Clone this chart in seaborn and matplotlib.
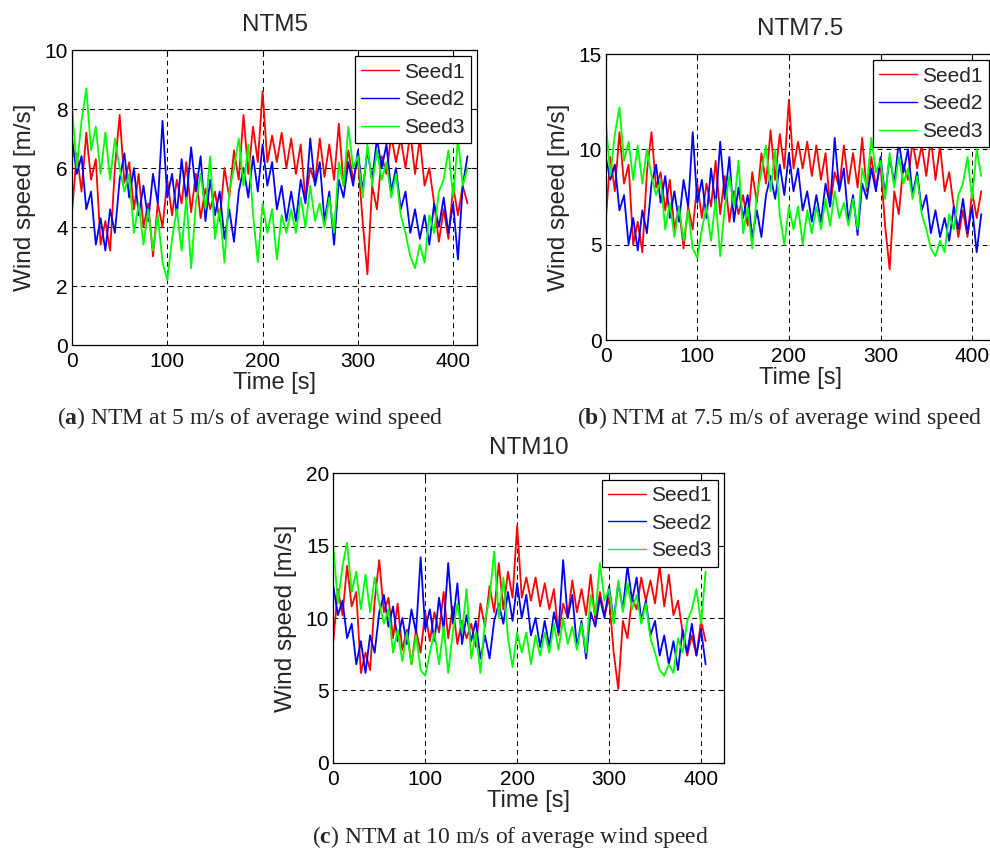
import numpy as np
import matplotlib
matplotlib.use("Agg")
import matplotlib.pyplot as plt
import seaborn as sns

# ---------------- data (5 s sampling) ----------------
SERIES_NAMES = ["Seed1", "Seed2", "Seed3"]
SERIES_COLORS = ["#ff0000", "#0000ff", "#00ff00"]
X_TICKS = [0, 100, 200, 300, 400]

# NTM5
A_SEED1 = [4.5,6.5,5.2,7.2,5.6,6.3,3.4,4.2,3.2,6.0, 7.8,5.5,6.2,4.6,5.8,4.0,4.8,3.0,4.8,4.0,
           5.6,4.4,5.6,4.8,6.2,4.5,5.8,4.3,5.3,4.6, 5.2,4.2,6.0,5.0,6.6,5.6,7.8,5.8,7.4,6.2,
           8.6,6.2,7.1,6.2,7.2,6.0,7.0,5.8,6.8,4.9, 6.0,5.5,7.0,5.7,6.8,5.6,7.5,5.4,6.6,5.6,
           6.3,4.2,2.4,5.4,4.6,6.4,5.8,7.1,6.2,7.0, 6.0,7.2,5.8,7.0,5.4,6.0,4.8,3.5,4.6,3.6,
           5.4,4.4,5.4,4.8]
A_SEED2 = [7.0,5.8,6.4,4.6,5.2,3.4,4.3,3.2,4.6,3.8, 5.6,6.5,5.0,6.0,4.4,5.4,4.2,5.8,4.8,7.6,
           5.0,5.8,4.4,6.3,4.9,6.7,5.2,6.4,4.2,5.6, 4.4,5.2,3.6,4.6,3.5,5.2,6.0,5.0,6.4,5.2,
           6.8,5.4,6.2,4.6,5.4,4.2,5.2,4.2,5.6,4.8, 7.0,5.4,6.2,4.2,5.2,3.4,5.6,5.0,6.2,5.4,
           6.6,5.2,6.6,5.6,7.0,6.0,6.8,5.2,6.0,4.6, 5.2,3.8,4.6,3.6,4.4,3.4,4.8,4.0,5.0,3.8,
           4.8,2.9,5.4,6.4]
A_SEED3 = [8.1,6.0,7.6,8.7,6.6,7.4,5.8,7.2,5.6,7.0, 6.0,5.2,5.8,3.8,4.8,3.4,4.6,3.2,4.4,2.8,
           2.2,3.6,4.6,3.2,5.0,2.6,4.8,5.8,4.6,6.4, 3.6,4.6,2.8,5.2,6.0,7.0,5.4,6.8,4.4,2.8,
           4.8,3.8,4.6,2.9,4.4,3.8,4.6,3.8,5.0,4.0, 5.4,4.2,4.8,4.0,5.0,3.8,6.2,5.4,7.4,6.0,
           6.4,5.0,6.8,5.4,6.6,5.6,6.2,5.0,5.8,4.4, 3.8,3.0,2.6,3.4,2.8,4.4,3.8,5.2,5.6,6.6,
           5.0,7.0,5.4,6.0]

# NTM7.5
B_SEED1 = [6.2,9.6,7.8,10.9,8.2,9.2,5.0,6.2,4.6,8.8, 10.9,8.0,8.8,6.8,8.4,5.8,7.0,4.8,7.0,5.8,
           8.2,6.4,8.2,7.0,9.4,6.6,8.6,6.2,7.8,6.6, 7.6,6.0,8.8,7.2,9.8,8.2,11.0,8.4,10.8,9.0,
           12.6,9.0,10.4,9.0,10.4,8.6,10.2,8.4,9.8,7.0, 8.8,8.0,10.2,8.2,9.8,8.0,10.6,7.8,9.6,8.0,
           9.2,6.0,3.7,7.8,6.6,9.2,8.4,10.4,9.0,10.2, 8.6,10.6,8.4,10.2,7.8,8.8,7.0,5.4,6.8,5.4,
           7.8,6.4,7.8]
B_SEED2 = [9.6,8.4,9.2,6.8,7.6,5.0,6.4,4.7,6.8,5.6, 8.2,9.2,7.2,8.6,6.4,7.8,6.2,8.4,7.0,10.9,
           7.2,8.4,6.4,9.0,7.0,10.4,7.4,9.6,6.2,8.0, 6.4,7.6,5.4,6.8,5.4,7.6,8.6,7.4,9.2,7.6,
           9.8,7.8,9.0,6.8,7.8,6.2,7.6,6.2,8.2,7.0, 10.6,7.8,9.0,6.2,7.6,5.5,8.2,7.4,9.0,7.8,
           9.6,7.6,9.6,8.2,10.4,8.8,10.0,7.6,8.8,6.8, 7.6,5.6,6.8,5.4,6.4,5.2,7.0,5.8,7.4,5.6,
           7.0,4.6,6.6]
B_SEED3 = [11.6,8.6,10.8,12.2,9.4,10.4,8.4,10.2,8.2,10.0, 8.6,7.6,8.4,5.8,7.2,5.4,7.0,5.2,6.8,4.8,
           4.3,5.8,7.0,5.2,7.4,4.4,7.0,8.6,7.0,9.4, 5.6,7.0,4.8,7.6,8.8,10.2,7.8,10.0,6.6,5.0,
           7.0,5.8,7.0,5.0,6.8,5.6,7.0,5.8,7.4,6.0, 7.8,6.4,7.2,6.0,7.4,5.8,9.0,8.0,10.6,8.8,
           9.4,7.4,9.8,8.0,9.6,8.2,9.0,7.4,8.6,6.6, 5.8,4.8,4.4,5.2,4.6,6.6,5.8,7.6,8.2,9.6,
           7.4,10.0,8.6]

# NTM10
C_SEED1 = [8.4,12.0,10.2,13.6,10.8,11.8,6.2,7.6,6.4,11.2, 14.0,10.4,11.4,8.6,11.0,7.8,9.2,6.8,9.2,7.6,
           10.4,8.4,10.4,9.0,11.8,8.6,10.8,8.2,9.8,8.6, 9.6,8.0,11.0,9.4,12.2,10.4,13.8,10.6,13.2,11.4,
           16.4,11.4,12.8,11.2,12.8,10.8,12.4,10.6,12.0,8.8, 11.0,10.0,12.6,10.4,12.0,10.2,13.0,9.8,11.8,10.2,
           11.4,7.6,5.1,9.8,8.6,11.4,10.6,12.8,11.2,12.6, 11.0,13.6,10.8,13.0,10.2,11.2,9.0,7.4,8.8,7.4,
           9.8,8.4]
C_SEED2 = [12.2,10.2,11.2,8.6,9.6,6.8,8.4,6.2,8.8,7.6, 10.4,11.6,9.4,10.8,8.4,10.0,8.2,10.6,9.0,14.2,
           9.2,10.6,8.4,11.4,9.2,13.8,9.6,12.4,8.2,10.2, 8.4,9.8,7.2,8.8,7.2,9.8,11.0,9.6,11.8,9.8,
           12.4,10.0,11.6,8.8,10.0,8.0,9.8,8.0,10.4,9.0, 14.0,10.0,11.6,8.0,9.8,7.2,10.4,9.4,11.4,10.0,
           12.2,9.8,12.4,10.6,13.6,11.2,12.8,9.8,11.2,8.8, 9.8,7.4,8.8,6.8,8.4,6.4,9.2,7.6,9.6,7.4,
           9.2,6.8]
C_SEED3 = [15.0,11.0,13.6,15.2,11.8,13.2,10.6,13.0,10.4,12.8, 11.0,9.6,10.6,7.6,9.2,7.0,9.0,6.8,8.8,6.4,
           6.0,7.6,9.0,6.8,9.4,6.2,9.0,11.0,9.0,12.0, 7.2,9.0,6.2,9.8,11.4,14.6,10.0,12.8,8.6,6.6,
           9.0,7.6,9.0,6.8,8.8,7.4,9.0,7.6,9.6,7.8, 10.0,8.2,9.4,7.8,9.6,7.6,11.6,10.2,13.8,11.2,
           12.0,9.6,12.6,10.4,12.4,10.6,11.6,9.6,11.0,8.6, 7.6,6.4,6.0,6.8,6.2,8.6,7.6,9.8,10.6,12.0,
           9.6,13.2]

PANELS = [
    dict(title="NTM5", series=[A_SEED1, A_SEED2, A_SEED3], ymax=10, yticks=[0, 2, 4, 6, 8, 10],
         rect=[72, 50, 477, 345], caption=r"($\mathbf{a}$) NTM at 5 m/s of average wind speed",
         cap_xy=(250, 418)),
    dict(title="NTM7.5", series=[B_SEED1, B_SEED2, B_SEED3], ymax=15, yticks=[0, 5, 10, 15],
         rect=[605.7, 54, 995, 340], caption=r"($\mathbf{b}$) NTM at 7.5 m/s of average wind speed",
         cap_xy=(780, 418)),
    dict(title="NTM10", series=[C_SEED1, C_SEED2, C_SEED3], ymax=20, yticks=[0, 5, 10, 15, 20],
         rect=[333.3, 473.3, 724, 762.7], caption=r"($\mathbf{c}$) NTM at 10 m/s of average wind speed",
         cap_xy=(510, 837)),
]

# ---------------- styling ----------------
sns.set_style("white")
plt.rcParams["font.family"] = ["Liberation Sans", "DejaVu Sans"]
plt.rcParams["mathtext.fontset"] = "custom"
plt.rcParams["mathtext.rm"] = "Liberation Serif"
plt.rcParams["mathtext.bf"] = "Liberation Serif:bold"

W, H = 990, 851
fig = plt.figure(figsize=(W / 100, H / 100), dpi=100)

for p in PANELS:
    l, t, r, b = p["rect"]
    ax = fig.add_axes([l / W, 1 - b / H, (r - l) / W, (b - t) / H])
    for name, vals, col in zip(SERIES_NAMES, p["series"], SERIES_COLORS):
        tt = np.arange(len(vals)) * 5
        sns.lineplot(x=tt, y=vals, color=col, lw=1.3, ax=ax, label=name, estimator=None)
    ax.set_xlim(0, 425)
    ax.set_ylim(0, p["ymax"])
    ax.set_xticks(X_TICKS)
    ax.set_yticks(p["yticks"])
    ax.grid(True, color="black", ls=(0, (5, 4)), lw=0.7)
    for s in ax.spines.values():
        s.set_color("black")
        s.set_linewidth(0.9)
    ax.tick_params(direction="in", length=4, top=True, right=True, labelsize=15,
                   colors="black", width=0.8)
    ax.tick_params(axis="x", pad=5)
    ax.tick_params(axis="y", pad=3)
    ax.set_xlabel("Time [s]", fontsize=17, labelpad=1)
    ax.set_ylabel("Wind speed [m/s]", fontsize=17.5, labelpad=6)
    ax.set_title(p["title"], fontsize=17.5, pad=14)
    leg = ax.legend(loc="upper right", frameon=True, fancybox=False, edgecolor="black",
                    framealpha=1, fontsize=15, handlelength=1.8, labelspacing=0.42,
                    borderpad=0.3, handletextpad=0.25, borderaxespad=0.3)
    leg.get_frame().set_linewidth(0.9)
    for h in leg.get_lines():
        h.set_linewidth(1.0)
    cx, cy = p["cap_xy"]
    fig.text(cx / W, 1 - cy / H, p["caption"], ha="center", va="center",
             fontfamily="Liberation Serif", fontsize=17)

fig.savefig("out.png", dpi=100)
